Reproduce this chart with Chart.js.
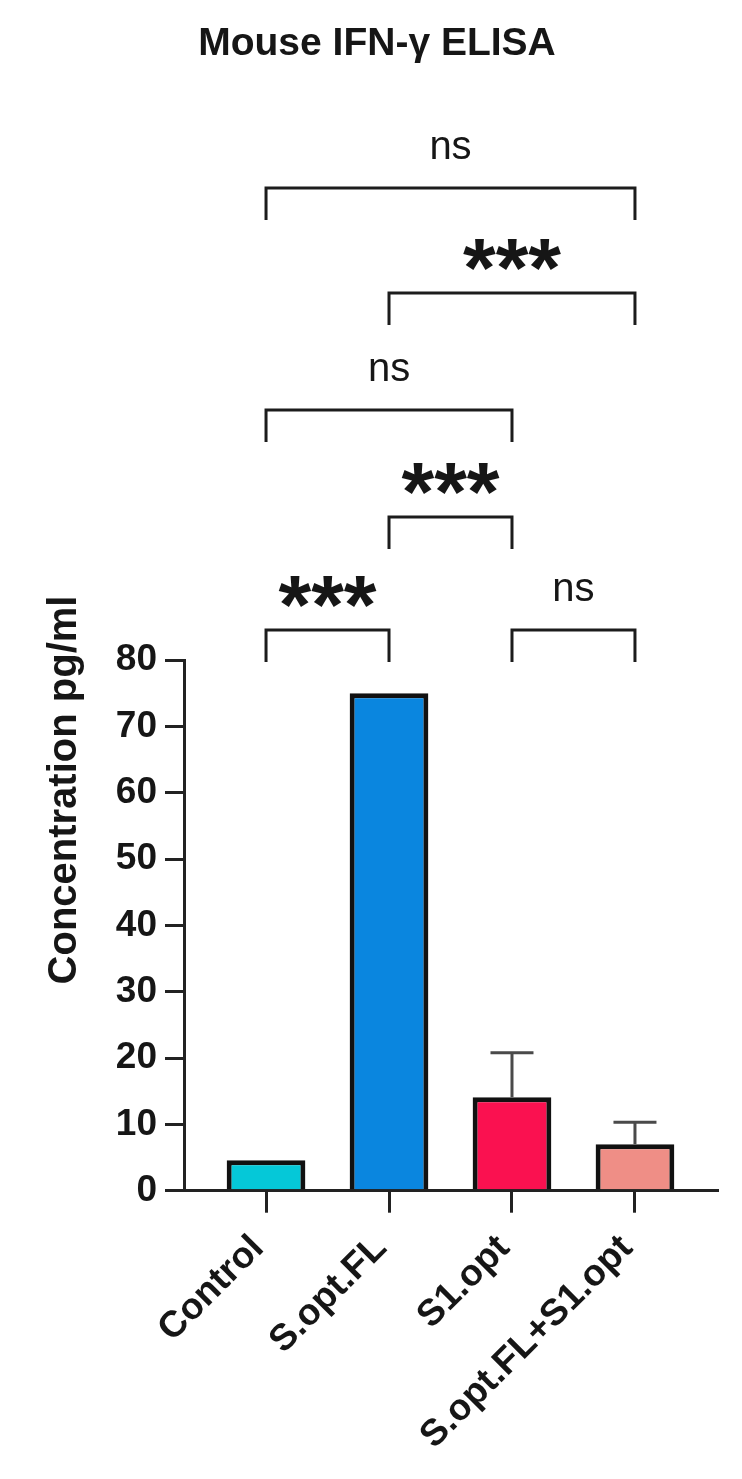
<!DOCTYPE html>
<html><head><meta charset="utf-8">
<script src="https://cdn.jsdelivr.net/npm/chart.js@4.4.1/dist/chart.umd.min.js"></script>
<style>html,body{margin:0;padding:0;background:#fff;} canvas{display:block;}</style>
</head><body>
<canvas id="c" width="742" height="1479"></canvas>
<script>
const chartTitle = 'Mouse IFN-γ ELISA';
const yAxisTitle = 'Concentration pg/ml';
const categories = ['Control', 'S.opt.FL', 'S1.opt', 'S.opt.FL+S1.opt'];
const meanValues = [4.6, 75.0, 14.1, 7.0];
const errorValues = [0, 0, 6.7, 3.3];
const barColors = ['#05C8D8', '#0A86DF', '#FA1150', '#EF8E86'];
const yTickMin = 0;
const yTickMax = 80;
const yTickStep = 10;
const compareFrom = [0, 2, 1, 0, 1, 0];
const compareTo = [1, 3, 2, 2, 3, 3];
const compareLabels = ['***', 'ns', '***', 'ns', '***', 'ns'];
const compareLevel = [0, 0, 1, 2, 3, 4];

const FONT = '"Liberation Sans", Arial, Helvetica, sans-serif';
const INK = '#161616';
const levelY = [630, 517, 410, 293, 188];
const bracketDrop = 32;

function drawCentered(ctx, text, cx, cy) {
  const m = ctx.measureText(text);
  const asc = m.actualBoundingBoxAscent, desc = m.actualBoundingBoxDescent;
  ctx.textAlign = 'center';
  ctx.textBaseline = 'alphabetic';
  ctx.fillText(text, cx, cy + (asc - desc) / 2);
}

const annotations = {
  id: 'annotations',
  afterDatasetsDraw(chart) {
    const ctx = chart.ctx, xs = chart.scales.x, ys = chart.scales.y;
    ctx.save();
    ctx.strokeStyle = '#4a4a4a';
    ctx.lineWidth = 3;
    for (let i = 0; i < categories.length; i++) {
      if (!errorValues[i]) continue;
      const x = xs.getPixelForValue(i);
      const yb = ys.getPixelForValue(meanValues[i]);
      const yt = ys.getPixelForValue(meanValues[i] + errorValues[i]);
      ctx.beginPath();
      ctx.moveTo(x, yb); ctx.lineTo(x, yt);
      ctx.moveTo(x - 21.5, yt); ctx.lineTo(x + 21.5, yt);
      ctx.stroke();
    }
    ctx.restore();
  },
  afterDraw(chart) {
    const ctx = chart.ctx, xs = chart.scales.x;
    ctx.save();
    ctx.fillStyle = INK;
    // title
    ctx.font = 'bold 39px ' + FONT;
    ctx.textAlign = 'center';
    ctx.textBaseline = 'alphabetic';
    ctx.fillText(chartTitle, 377, 55);
    // y axis title
    ctx.save();
    ctx.translate(76, 790);
    ctx.rotate(-Math.PI / 2);
    ctx.font = 'bold 40px ' + FONT;
    ctx.textAlign = 'center';
    ctx.fillText(yAxisTitle, 0, 0);
    ctx.restore();
    // significance brackets
    ctx.strokeStyle = '#1c1c1c';
    ctx.lineWidth = 3;
    ctx.lineJoin = 'miter';
    for (let i = 0; i < compareLabels.length; i++) {
      const x1 = xs.getPixelForValue(compareFrom[i]);
      const x2 = xs.getPixelForValue(compareTo[i]);
      const y = levelY[compareLevel[i]];
      ctx.beginPath();
      ctx.moveTo(x1, y + bracketDrop);
      ctx.lineTo(x1, y);
      ctx.lineTo(x2, y);
      ctx.lineTo(x2, y + bracketDrop);
      ctx.stroke();
      const lbl = compareLabels[i];
      if (lbl === 'ns') {
        ctx.font = '40px ' + FONT;
        drawCentered(ctx, lbl, (x1 + x2) / 2, y - 40);
      } else {
        ctx.font = 'bold 84px ' + FONT;
        drawCentered(ctx, lbl, (x1 + x2) / 2, y - 38);
      }
    }
    ctx.restore();
  }
};

new Chart(document.getElementById('c'), {
  type: 'bar',
  data: {
    datasets: [{
      data: categories.map((c, i) => ({ x: i, y: meanValues[i] })),
      backgroundColor: barColors,
      borderColor: '#111',
      borderWidth: 5,
      barPercentage: 0.64,
      categoryPercentage: 1
    }]
  },
  options: {
    responsive: false,
    animation: false,
    events: [],
    layout: { padding: { top: 660, right: 25, left: 0, bottom: 0 } },
    plugins: { legend: { display: false }, tooltip: { enabled: false }, title: { display: false } },
    scales: {
      x: {
        type: 'linear',
        min: -0.667,
        max: 3.667,
        offset: false,
        afterBuildTicks: s => { s.ticks = categories.map((c, i) => ({ value: i })); },
        afterFit: s => { s.height = 1479 - 1190.7; },
        grid: { offset: false, drawOnChartArea: false, color: '#222', lineWidth: 3, tickLength: 22 },
        border: { display: true, width: 3, color: '#222' },
        ticks: {
          autoSkip: false, minRotation: 45, maxRotation: 45, padding: 14, labelOffset: -8,
          color: INK, font: { family: FONT, size: 37, weight: 'bold' },
          callback: v => categories[v]
        }
      },
      y: {
        min: yTickMin,
        max: yTickMax,
        afterFit: s => { s.width = 184; },
        grid: { drawOnChartArea: false, color: '#222', lineWidth: 3, tickLength: 19 },
        border: { display: true, width: 3, color: '#222' },
        ticks: {
          stepSize: yTickStep, padding: 8,
          color: INK, font: { family: FONT, size: 37, weight: 'bold' }
        }
      }
    }
  },
  plugins: [annotations]
});
</script>
</body></html>
